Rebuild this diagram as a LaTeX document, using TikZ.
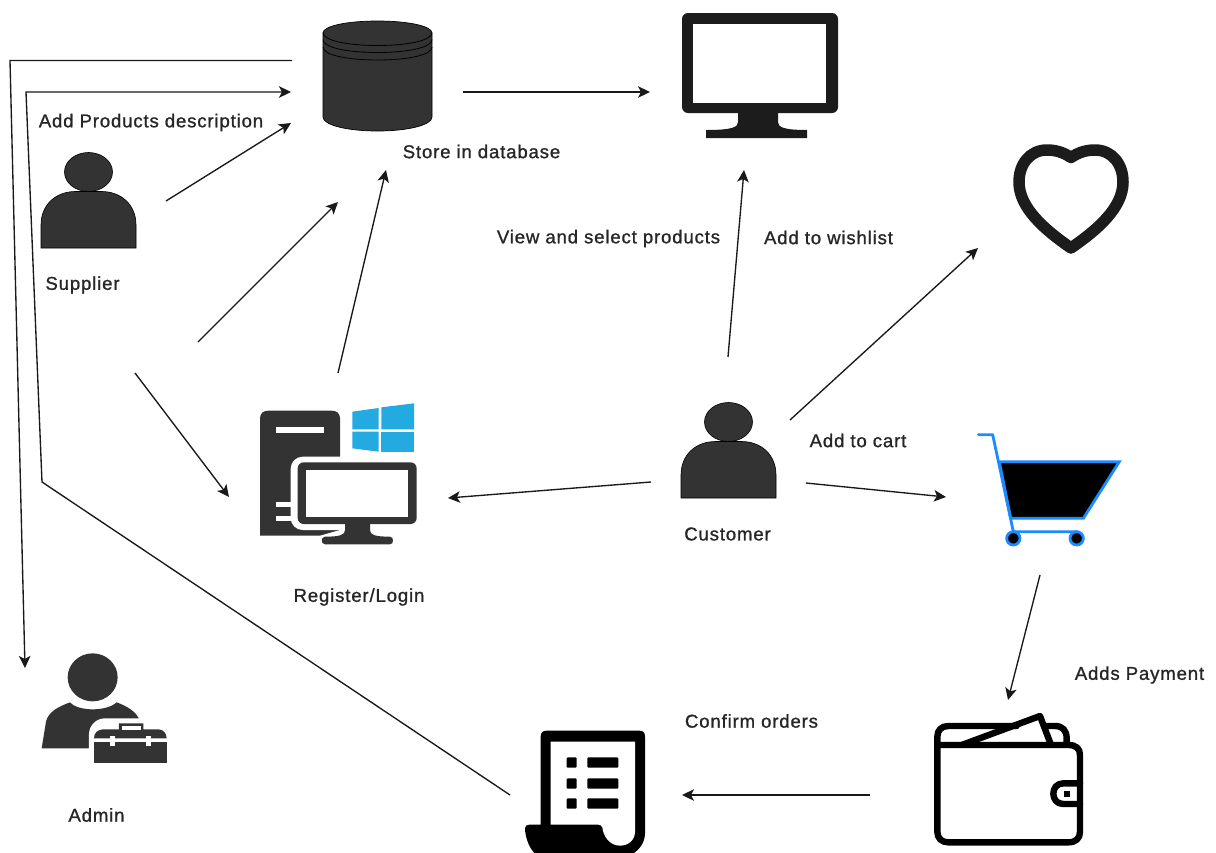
\documentclass[tikz,border=0pt]{standalone}
\usepackage{fontspec}
\usetikzlibrary{arrows.meta}
\newfontfamily\lablfont[FakeBold=1,LetterSpace=4.5]{Liberation Sans}
\definecolor{ink}{HTML}{333333}
\definecolor{dark}{HTML}{1C1C1C}
\definecolor{winblue}{HTML}{23AAE1}
\definecolor{cartblue}{HTML}{1A8CFF}
\tikzset{
  flow/.style={line width=1.35pt,draw=black!90,-{Stealth[length=12pt,width=11.5pt,inset=3pt]}},
  lbl/.style={font=\lablfont\fontsize{18.6}{20}\selectfont,text=black!85,inner sep=0pt,anchor=center},
  personpic/.pic={
    \fill[ink,draw=black,line width=.6pt] (0,19) ellipse [x radius=24,y radius=19.5];
    \fill[ink,draw=black,line width=.6pt] (-47.5,95) -- (-47.5,72) .. controls (-47.5,52) and (-33,38.5) .. (-13,38.5) -- (13,38.5) .. controls (33,38.5) and (47.5,52) .. (47.5,72) -- (47.5,95) -- cycle;
  },
}
\begin{document}
\begin{tikzpicture}[x=1pt,y=-1pt]
\path[use as bounding box,fill=white] (0,0) rectangle (1216,852);
\clip (0,0) rectangle (1216,852);

% ---------- database
\fill[ink,draw=black,line width=.7pt] (323,33) -- (323,117) .. controls (323,125) and (347,131) .. (377.5,131) .. controls (408,131) and (432,125) .. (432,117) -- (432,33) .. controls (432,26) and (408,21) .. (377.5,21) .. controls (347,21) and (323,26) .. (323,33) -- cycle;
\foreach \yy in {32.5,39.5,47}
  \draw[black,line width=.8pt] (323,\yy) .. controls (323,\yy+8) and (347,\yy+13) .. (377.5,\yy+13) .. controls (408,\yy+13) and (432,\yy+8) .. (432,\yy);

% ---------- monitor
\fill[dark,rounded corners=6pt] (682,13) rectangle (838,113);
\fill[white] (693,24) rectangle (826,103);
\fill[dark] (738,112) -- (778,112) -- (778,122) .. controls (778,127) and (783,130) .. (807,130) -- (807,138) -- (706,138) -- (706,130) .. controls (733,130) and (738,127) .. (738,122) -- cycle;

% ---------- heart
\draw[dark,line width=11.5pt,line join=round] (1071,157.5) .. controls (1063,152) and (1055,150) .. (1047,150) .. controls (1030,150) and (1019,164) .. (1019,182) .. controls (1019,208) and (1045,230) .. (1071,248) .. controls (1097,230) and (1123,208) .. (1123,182) .. controls (1123,164) and (1112,150) .. (1095,150) .. controls (1087,150) and (1079,152) .. (1071,157.5) -- cycle;

% ---------- people
\pic at (88.5,153) {personpic};
\pic at (728.5,403) {personpic};

% ---------- computer with logo
\begin{scope}[shift={(240,390)},scale=1/3]
  \fill[ink] (60,437) -- (60,85) .. controls (60,70) and (70,62) .. (85,62) -- (275,62) .. controls (290,62) and (300,70) .. (300,85) -- (300,437) -- cycle;
  \fill[white] (107,110) rectangle (252,128);
  \fill[white,rounded corners=12pt] (152,200) rectangle (560,420);
  \fill[white] (300,380) rectangle (560,470);
  \fill[white] (240,437) -- (300,420) -- (300,440) -- cycle;
  \fill[white] (107,335) rectangle (152,350);
  \fill[white] (107,378) rectangle (152,392);
  \fill[ink,rounded corners=6pt] (173,217) rectangle (530,402);
  \fill[white] (198,240) rectangle (503,382);
  \fill[ink] (315,400) -- (390,400) -- (390,420) .. controls (390,435) and (405,440) .. (450,440) .. controls (462,440) and (462,463) .. (450,463) -- (255,463) .. controls (242,463) and (242,440) .. (255,440) .. controls (300,440) and (315,435) .. (315,420) -- cycle;
  \fill[winblue] (337,65) -- (416,54) -- (416,118) -- (337,118) -- cycle;
  \fill[winblue] (424,52) -- (522,40) -- (522,118) -- (424,118) -- cycle;
  \fill[winblue] (337,125) -- (416,125) -- (416,185) -- (337,175) -- cycle;
  \fill[winblue] (424,125) -- (522,125) -- (522,185) -- (424,185) -- cycle;
\end{scope}

% ---------- cart
\begin{scope}[shift={(960,420)},scale=1/3]
  \draw[cartblue,line width=2.8pt,fill=black,line join=miter] (118,125) -- (478,125) -- (370,295) -- (152,295) -- cycle;
  \draw[cartblue,line width=2.8pt,line cap=round,line join=round] (55,44) -- (98,44) -- (160,335) -- (350,335);
  \draw[cartblue,line width=2.8pt,fill=black] (160,355) circle [radius=20];
  \draw[cartblue,line width=2.8pt,fill=black] (350,355) circle [radius=20];
\end{scope}

% ---------- wallet
\begin{scope}[shift={(920,700)},scale=1/3,line width=6.4pt,line join=round,line cap=round]
  \draw (52,135) -- (52,110) .. controls (52,90) and (65,78) .. (85,78) -- (290,78);
  \draw (380,78) -- (405,78) .. controls (428,78) and (440,92) .. (440,115) -- (440,132);
  \draw (125,135) -- (360,48) -- (392,132);
  \draw (52,135) -- (52,395) .. controls (52,415) and (65,427) .. (85,427) -- (445,427) .. controls (468,427) and (480,415) .. (480,395) -- (480,165) .. controls (480,145) and (468,135) .. (445,135) -- cycle;
  \draw (480,250) -- (430,250) .. controls (410,250) and (400,265) .. (400,281) .. controls (400,297) and (410,312) .. (430,312) -- (480,312);
  \fill (432,272) rectangle (450,290);
\end{scope}

% ---------- order sheet
\begin{scope}[shift={(510,720)},scale=1/3]
  \fill[black] (92,50) .. controls (92,38) and (98,32) .. (110,32) -- (388,32) .. controls (400,32) and (405,38) .. (405,50) -- (405,340) .. controls (405,375) and (375,410) .. (335,410) -- (90,410) .. controls (60,400) and (45,350) .. (45,325) .. controls (45,318) and (50,314) .. (58,314) -- (92,314) -- cycle;
  \fill[white] (122,65) -- (375,65) -- (375,335) .. controls (375,360) and (355,377) .. (330,377) .. controls (300,377) and (280,350) .. (277,322) .. controls (275,316) and (270,314) .. (265,314) -- (122,314) -- cycle;
  \foreach \yy in {112,175,235}{
    \fill[black,rounded corners=1pt] (170,\yy) rectangle (200,\yy+31);
    \fill[black,rounded corners=1pt] (232,\yy) rectangle (325,\yy+31);
  }
\end{scope}

% ---------- admin
\begin{scope}[shift={(20,640)},scale=1/3]
  \fill[ink] (218,112) ellipse [x radius=75,y radius=72];
  \fill[ink] (65,325) -- (78,245) .. controls (85,215) and (115,200) .. (150,187) .. controls (175,215) and (260,215) .. (290,187) .. controls (320,198) and (350,215) .. (358,240) -- (358,325) -- cycle;
  \fill[white,rounded corners=16pt] (207,235) rectangle (470,400);
  \fill[ink] (222,295) .. controls (222,280) and (232,268) .. (250,268) -- (297,268) -- (297,250) -- (370,250) -- (370,268) -- (415,268) .. controls (430,268) and (440,280) .. (440,295) -- cycle;
  \fill[white] (305,258) rectangle (362,270);
  \fill[ink] (222,305) rectangle (440,370);
  \fill[white] (269,288) rectangle (284,318);
  \fill[white] (379,288) rectangle (394,318);
\end{scope}

% ---------- labels
\node[lbl] (lblDesc) at (151,122.5) {Add Products description};
\node[lbl] (lblSupplier) at (82.5,285) {Supplier};
\node[lbl] (lblStore) at (481.5,151.5) {Store in database};
\node[lbl] (lblView) at (608.5,238.5) {View and select products};
\node[lbl] (lblWish) at (828.5,237.5) {Add to wishlist};
\node[lbl] (lblCart) at (858,440.5) {Add to cart};
\node[lbl] (lblCustomer) at (727.5,534) {Customer};
\node[lbl] (lblRegister) at (359,597) {Register/Login};
\node[lbl] (lblPay) at (1139.5,675) {Adds Payment};
\node[lbl] (lblConfirm) at (751.5,721) {Confirm orders};
\node[lbl] (lblAdmin) at (96.5,815) {Admin};

% ---------- connector ends
\coordinate (dbLeftA) at (292,60.5);
\coordinate (cornerA) at (10,60.5);
\coordinate (adminIn) at (25,668);
\coordinate (sheetOut) at (510,795);
\coordinate (bendB) at (42,482);
\coordinate (cornerB) at (26,92);
\coordinate (dbLeftB) at (291,92);
\coordinate (supOut) at (166,201);
\coordinate (dbLeftC) at (291,123);
\coordinate (supOutB) at (198,342);
\coordinate (dbLow) at (338,202);
\coordinate (regUp) at (338,373);
\coordinate (dbBelow) at (386,170);
\coordinate (supDown) at (135,373);
\coordinate (regLeft) at (229,497);
\coordinate (dbRight) at (463,92);
\coordinate (monLeft) at (650,92);
\coordinate (custUp) at (728,357);
\coordinate (monBelow) at (744,170);
\coordinate (custNE) at (790,420);
\coordinate (heartIn) at (978,248);
\coordinate (custLeft) at (651,482);
\coordinate (regRight) at (448,498);
\coordinate (custRight) at (806,483);
\coordinate (cartLeft) at (946,497);
\coordinate (cartDown) at (1040,575);
\coordinate (walletUp) at (1008,700);
\coordinate (walletLeft) at (870,795);
\coordinate (sheetRight) at (682,795);

% ---------- connectors
\draw[flow] (dbLeftA) -- (cornerA) -- (adminIn);
\draw[flow] (sheetOut) -- (bendB) -- (cornerB) -- (dbLeftB);
\draw[flow] (supOut) -- (dbLeftC);
\draw[flow] (supOutB) -- (dbLow);
\draw[flow] (regUp) -- (dbBelow);
\draw[flow] (supDown) -- (regLeft);
\draw[flow] (dbRight) -- (monLeft);
\draw[flow] (custUp) -- (monBelow);
\draw[flow] (custNE) -- (heartIn);
\draw[flow] (custLeft) -- (regRight);
\draw[flow] (custRight) -- (cartLeft);
\draw[flow] (cartDown) -- (walletUp);
\draw[flow] (walletLeft) -- (sheetRight);
\end{tikzpicture}
\end{document}
